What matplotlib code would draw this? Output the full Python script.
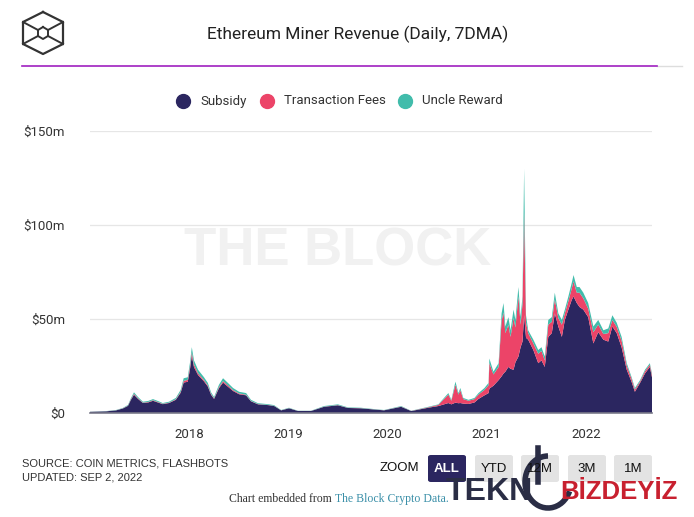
import pandas as pd
import matplotlib.pyplot as plt
from matplotlib.patches import FancyBboxPatch, Arc
from matplotlib.lines import Line2D

# 7-day average daily miner revenue, $m
dates = ["2017-01-01", "2017-03-01", "2017-04-07", "2017-05-02", "2017-05-21", "2017-06-01",
         "2017-06-12", "2017-06-27", "2017-07-15", "2017-08-03", "2017-08-21", "2017-09-08",
         "2017-09-26", "2017-10-19", "2017-11-13", "2017-12-01", "2017-12-12", "2017-12-27",
         "2018-01-04", "2018-01-11", "2018-01-19", "2018-02-03", "2018-02-14", "2018-02-25",
         "2018-03-11", "2018-03-23", "2018-04-03", "2018-04-21", "2018-05-06", "2018-05-24",
         "2018-06-12", "2018-07-04", "2018-07-30", "2018-08-17", "2018-09-12", "2018-10-19",
         "2018-11-10", "2018-12-06", "2019-01-04", "2019-02-06", "2019-03-26", "2019-05-13",
         "2019-07-03", "2019-08-09", "2019-09-26", "2019-11-13", "2019-12-20", "2020-02-21",
         "2020-03-29", "2020-05-31", "2020-07-07", "2020-08-13", "2020-08-24", "2020-09-08",
         "2020-09-19", "2020-09-26", "2020-10-07", "2020-10-26", "2020-11-17", "2020-12-02",
         "2020-12-24", "2021-01-08", "2021-01-11", "2021-01-26", "2021-02-14", "2021-02-25",
         "2021-03-04", "2021-03-11", "2021-03-22", "2021-03-30", "2021-04-10", "2021-04-17",
         "2021-04-28", "2021-05-06", "2021-05-13", "2021-05-19", "2021-05-26", "2021-06-03",
         "2021-06-22", "2021-07-10", "2021-07-22", "2021-08-03", "2021-08-16", "2021-08-29",
         "2021-09-09", "2021-09-22", "2021-10-05", "2021-10-16", "2021-10-29", "2021-11-10",
         "2021-11-17", "2021-11-29", "2021-12-09", "2021-12-23", "2022-01-10", "2022-01-29",
         "2022-02-16", "2022-03-07", "2022-03-25", "2022-04-09", "2022-04-25", "2022-05-13",
         "2022-06-01", "2022-06-19", "2022-07-01", "2022-07-20", "2022-08-07", "2022-08-25",
         "2022-09-02"]

subsidy = [0.62, 0.88, 1.4, 2.4, 3.8, 7.1,
           9.7, 7.5, 5.3, 5.6, 6.5, 5.6,
           4.7, 5.3, 7.0, 10.8, 16.2, 16.6,
           23.0, 30.5, 24.4, 20.2, 18.5, 16.8,
           14.1, 9.7, 7.5, 13.2, 16.2, 14.0,
           11.7, 10.0, 9.4, 6.2, 4.6, 4.2,
           3.75, 1.4, 2.5, 1.07, 1.07, 3.3,
           4.1, 2.67, 2.5, 1.87, 1.42, 3.3,
           1.05, 2.8, 3.7, 5.3, 4.6, 5.5,
           5.2, 5.3, 5.0, 4.8, 5.6, 7.5,
           9.4, 10.6, 13.0, 14.5, 17.5, 19.5,
           21.0, 22.0, 24.5, 23.5, 23.0, 27.0,
           30.0, 35.0, 38.0, 52.0, 40.0, 39.0,
           33.5, 26.5, 28.0, 24.5, 40.5, 42.5,
           53.0, 46.0, 40.5, 49.5, 55.0, 60.0,
           62.0, 58.5, 56.4, 55.0, 51.0, 37.0,
           43.0, 39.0, 38.0, 46.0, 42.5, 35.0,
           23.0, 16.5, 11.3, 16.0, 21.0, 24.5,
           19.0]

fees = [0.02, 0.03, 0.05, 0.1, 0.15, 0.3,
        0.5, 0.35, 0.2, 0.25, 0.3, 0.25,
        0.2, 0.2, 0.3, 0.5, 0.9, 1.0,
        1.5, 1.8, 1.4, 0.9, 0.8, 0.7,
        0.6, 0.4, 0.3, 0.6, 0.8, 0.7,
        0.5, 0.4, 0.3, 0.2, 0.15, 0.1,
        0.1, 0.05, 0.08, 0.03, 0.03, 0.1,
        0.12, 0.08, 0.08, 0.06, 0.05, 0.12,
        0.05, 0.25, 0.6, 4.5, 1.9, 9.5,
        4.6, 6.8, 2.4, 1.7, 1.8, 2.3,
        2.9, 4.2, 13.5, 6.0, 7.0, 29.5,
        32.5, 20.5, 22.5, 17.0, 27.5, 18.5,
        32.0, 12.0, 20.0, 55.0, 8.0, 3.5,
        3.5, 5.0, 5.0, 3.5, 6.5, 6.0,
        7.5, 4.5, 6.5, 3.5, 4.5, 6.0,
        8.0, 5.5, 7.6, 6.0, 4.5, 6.0,
        4.0, 3.0, 4.5, 3.5, 3.3, 3.5,
        2.2, 1.6, 1.2, 0.8, 1.2, 1.2,
        1.2]

uncle = [0.06, 0.09, 0.15, 0.2, 0.35, 0.6,
         0.8, 0.65, 0.5, 0.55, 0.6, 0.55,
         0.4, 0.5, 0.7, 1.0, 1.4, 1.4,
         2.0, 2.7, 2.2, 1.9, 1.7, 1.5,
         1.3, 0.9, 0.7, 1.2, 1.5, 1.3,
         1.1, 0.9, 0.9, 0.6, 0.45, 0.4,
         0.35, 0.15, 0.22, 0.1, 0.1, 0.3,
         0.38, 0.25, 0.22, 0.17, 0.13, 0.28,
         0.1, 0.25, 0.3, 0.8, 0.5, 1.7,
         0.8, 1.2, 0.6, 0.5, 0.6, 0.8,
         1.0, 1.2, 2.5, 1.5, 2.0, 4.0,
         5.0, 3.5, 4.0, 3.5, 4.5, 4.0,
         5.0, 4.0, 4.0, 23.0, 4.0, 1.5,
         2.0, 2.0, 2.0, 2.0, 2.5, 2.5,
         3.5, 2.5, 2.5, 2.0, 2.5, 3.0,
         3.4, 3.0, 3.0, 3.0, 3.0, 3.0,
         2.5, 2.0, 2.5, 2.5, 2.2, 2.0,
         1.3, 0.9, 0.8, 0.7, 0.8, 0.8,
         0.8]

series_names = ["Subsidy", "Transaction Fees", "Uncle Reward"]
series_colors = ["#2b2660", "#ec4468", "#41bcab"]
year_ticks = ["2018", "2019", "2020", "2021", "2022"]
y_ticks = [0, 50, 100, 150]
zoom_buttons = ["ALL", "YTD", "12M", "3M", "1M"]

W, H = 694, 517


def fx(px):
    return px / W


def fy(py):
    return 1 - py / H


def line(fig, xs, ys, **kw):
    fig.add_artist(Line2D([fx(v) for v in xs], [fy(v) for v in ys], **kw))


def main():
    x = pd.to_datetime(dates)

    fig = plt.figure(figsize=(W / 100, H / 100), dpi=100)
    fig.patch.set_facecolor("white")

    # watermark behind the plot
    fig.text(fx(338), fy(252), "THE BLOCK", fontsize=38, fontweight="bold",
             color="#f1f1f1", ha="center", va="center", family="Liberation Sans", zorder=0)

    # plot area
    ax = fig.add_axes([fx(90), fy(413), (652 - 90) / W, (413 - 131) / H])
    ax.patch.set_alpha(0)
    ax.stackplot(x, subsidy, fees, uncle, colors=series_colors, linewidth=0)
    ax.set_xlim(pd.Timestamp("2017-01-01"), pd.Timestamp("2022-09-02"))
    ax.set_ylim(0, 150)
    ax.set_yticks(y_ticks)
    ax.set_yticklabels(["$0"] + ["$%dm" % v for v in y_ticks[1:]])
    ax.set_xticks([pd.Timestamp(y + "-01-01") for y in year_ticks])
    ax.set_xticklabels(year_ticks)
    ax.grid(axis="y", color="#e6e6e6", linewidth=0.9)
    ax.set_axisbelow(True)
    for s in ["top", "right", "left"]:
        ax.spines[s].set_visible(False)
    ax.spines["bottom"].set_color("#7a7a8a")
    ax.spines["bottom"].set_linewidth(1.2)
    ax.tick_params(axis="both", length=0, labelsize=9.5, colors="#333333")
    ax.tick_params(axis="y", pad=18)
    ax.tick_params(axis="x", pad=11)
    for lab in ax.get_xticklabels() + ax.get_yticklabels():
        lab.set_fontfamily("Roboto")

    # logo: hexagon with an X through a small centre hexagon
    dark = "#333333"
    line(fig, [43, 63, 63, 43, 23, 23, 43], [12, 22, 44, 54, 44, 22, 12], color=dark, lw=1.6)
    line(fig, [43, 48, 48, 43, 38, 38, 43], [27, 30, 36, 39, 36, 30, 27], color=dark, lw=1.4)
    line(fig, [23, 38], [22, 30], color=dark, lw=1.4)
    line(fig, [63, 48], [22, 30], color=dark, lw=1.4)
    line(fig, [23, 38], [44, 36], color=dark, lw=1.4)
    line(fig, [63, 48], [44, 36], color=dark, lw=1.4)

    # title and separator
    fig.text(fx(358), fy(34), "Ethereum Miner Revenue (Daily, 7DMA)", fontsize=12.5,
             color="#222222", ha="center", va="center", family="Roboto")
    line(fig, [657, 682], [66, 66], color="#dddddd", lw=1)
    line(fig, [22, 657], [66, 66], color="#a020c0", lw=1.2)

    # legend
    for cx, name, col in zip([183, 267, 405], series_names, series_colors):
        fig.add_artist(Line2D([fx(cx)], [fy(101)], marker="o", markersize=10,
                              color=col, linestyle="none"))
        fig.text(fx(cx + 17), fy(101), name, fontsize=9.5, color="#333333",
                 ha="left", va="center", family="Roboto")

    # footer
    fig.text(fx(22), fy(464), "SOURCE: COIN METRICS, FLASHBOTS", fontsize=8,
             color="#333333", ha="left", va="center", family="Liberation Sans")
    fig.text(fx(22), fy(478), "UPDATED: SEP 2, 2022", fontsize=8,
             color="#333333", ha="left", va="center", family="Liberation Sans")

    fig.text(fx(380), fy(468), "ZOOM", fontsize=9.5, color="#111111",
             ha="left", va="center", family="Liberation Sans")
    for bx, lab in zip([428, 475, 521, 568, 614], zoom_buttons):
        active = lab == "ALL"
        fig.add_artist(FancyBboxPatch((fx(bx), fy(482)), 38 / W, 27 / H,
                                      boxstyle="round,pad=0,rounding_size=0.004",
                                      transform=fig.transFigure,
                                      facecolor="#2b2660" if active else "#e3e3e3",
                                      edgecolor="none"))
        fig.text(fx(bx + 19), fy(469), lab, fontsize=9.5,
                 fontweight="bold" if active else "normal",
                 color="white" if active else "#111111",
                 ha="center", va="center", family="Liberation Sans")

    t1 = fig.text(fx(229), fy(499), "Chart embedded from ", fontsize=8.5,
                  color="#333333", ha="left", va="center", family="Liberation Serif")
    fig.canvas.draw()
    bb = t1.get_window_extent()
    fig.text(bb.x1 / W, fy(499), "The Block Crypto Data.", fontsize=8.5,
             color="#3a8fa8", ha="left", va="center", family="Liberation Serif")

    # site watermark
    navy = "#2a2d45"
    fig.text(fx(446), fy(492), "TEKN", fontsize=23, fontweight="bold",
             color=navy, ha="left", va="center", family="Liberation Sans")
    fig.add_artist(Arc((fx(548), fy(482)), 46 / W, 52 / H, theta1=90, theta2=330,
                       transform=fig.transFigure, color=navy, lw=4))
    line(fig, [538, 538], [448, 482], color=navy, lw=4)
    fig.text(fx(560), fy(492), "BİZDEYİZ", fontsize=18.5, fontweight="bold",
             color="#c8202f", ha="left", va="center", family="Liberation Sans")

    fig.savefig("out.png", dpi=100)


if __name__ == "__main__":
    main()
